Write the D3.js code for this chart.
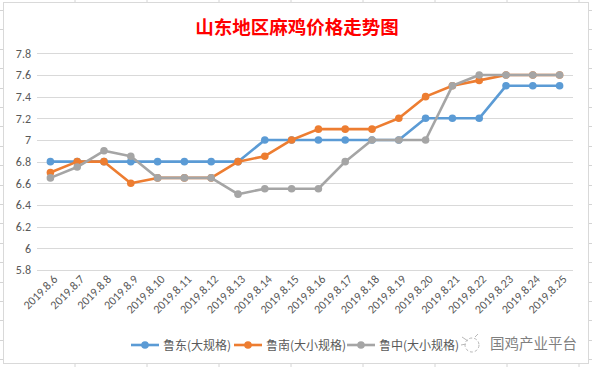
<!DOCTYPE html>
<html><head><meta charset="utf-8">
<script src="https://cdn.jsdelivr.net/npm/d3@7"></script>
<style>body{margin:0;background:#fff}svg{display:block}</style>
</head><body>
<script>
const categories = ["2019.8.6","2019.8.7","2019.8.8","2019.8.9","2019.8.10","2019.8.11","2019.8.12","2019.8.13","2019.8.14","2019.8.15","2019.8.16","2019.8.17","2019.8.18","2019.8.19","2019.8.20","2019.8.21","2019.8.22","2019.8.23","2019.8.24","2019.8.25"];
const seriesNames = ["鲁东(大规格)","鲁南(大小规格)","鲁中(大小规格)"];
const ludong  = [6.8,6.8,6.8,6.8,6.8,6.8,6.8,6.8,7.0,7.0,7.0,7.0,7.0,7.0,7.2,7.2,7.2,7.5,7.5,7.5];
const lunan   = [6.7,6.8,6.8,6.6,6.65,6.65,6.65,6.8,6.85,7.0,7.1,7.1,7.1,7.2,7.4,7.5,7.55,7.6,7.6,7.6];
const luzhong = [6.65,6.75,6.9,6.85,6.65,6.65,6.65,6.5,6.55,6.55,6.55,6.8,7.0,7.0,7.0,7.5,7.6,7.6,7.6,7.6];
const yTicks = [5.8,6,6.2,6.4,6.6,6.8,7,7.2,7.4,7.6,7.8];
const colors = ["#5B9BD5","#ED7D31","#A5A5A5"];
const title = "山东地区麻鸡价格走势图";
const watermark = "国鸡产业平台";

const W = 592, H = 367;
const svg = d3.select("body").append("svg").attr("width", W).attr("height", H);
const font = "Calibri, Carlito, 'Liberation Sans', 'Noto Sans CJK SC', sans-serif";

// spreadsheet cell lines behind the chart
const cellCols = d3.range(75, W, 72);
const cellRows = d3.range(10, H, 19.4);
svg.append("g").selectAll("line.c").data(cellCols).join("line")
  .attr("x1", d => d).attr("x2", d => d).attr("y1", 0).attr("y2", H)
  .attr("stroke", "#D4D4D4").attr("stroke-width", 1);
svg.append("g").selectAll("line.r").data(cellRows).join("line")
  .attr("x1", 0).attr("x2", W).attr("y1", d => Math.round(d) + 0.5).attr("y2", d => Math.round(d) + 0.5)
  .attr("stroke", "#D4D4D4").attr("stroke-width", 1);

// chart area
svg.append("rect").attr("x", 3.5).attr("y", 2.5).attr("width", 585).attr("height", 361)
  .attr("fill", "#fff").attr("stroke", "#D9D9D9").attr("stroke-width", 1);

svg.append("text").attr("x", 297).attr("y", 34).attr("text-anchor", "middle")
  .attr("fill", "#FF0000").attr("font-size", 18.5).attr("font-weight", "bold")
  .attr("font-family", "'Noto Sans CJK SC', sans-serif").text(title);

const x = d3.scaleBand().domain(categories).range([37, 573]);
const y = d3.scaleLinear().domain([5.8, 7.8]).range([270, 53.3]);

// gridlines
svg.append("g").selectAll("line").data(yTicks).join("line")
  .attr("x1", 37).attr("x2", 573)
  .attr("y1", d => Math.round(y(d)) + 0.5).attr("y2", d => Math.round(y(d)) + 0.5)
  .attr("stroke", "#D9D9D9").attr("stroke-width", 1);

// y axis
const yAxis = svg.append("g").attr("transform", "translate(31,0)")
  .call(d3.axisLeft(y).tickValues(yTicks).tickSize(0).tickPadding(0).tickFormat(d => String(+d.toFixed(1))));
yAxis.select(".domain").remove();
yAxis.selectAll("text").attr("fill", "#595959").attr("font-size", 12).attr("font-family", font);

// x axis
const xAxis = svg.append("g").attr("transform", "translate(0,277)")
  .call(d3.axisBottom(x).tickSize(0).tickPadding(0));
xAxis.select(".domain").remove();
xAxis.selectAll("text")
  .attr("fill", "#595959").attr("font-size", 12).attr("font-family", font)
  .attr("text-anchor", "end").attr("dy", "0.35em")
  .attr("transform", "translate(5,0) rotate(-45)");

// series
const data = [ludong, lunan, luzhong];
const cx = i => x(categories[i]) + x.bandwidth() / 2;
const line = d3.line().x((d, i) => cx(i)).y(d => y(d));
data.forEach((vals, s) => {
  const g = svg.append("g");
  g.append("path").datum(vals).attr("d", line).attr("fill", "none")
    .attr("stroke", colors[s]).attr("stroke-width", 2.6).attr("stroke-linejoin", "round");
  g.selectAll("circle").data(vals).join("circle")
    .attr("cx", (d, i) => cx(i)).attr("cy", d => y(d)).attr("r", 3.8).attr("fill", colors[s]);
});

// legend
const legendX = [131, 234, 347];
const lg = svg.append("g");
seriesNames.forEach((n, s) => {
  const g = lg.append("g").attr("transform", `translate(${legendX[s]},345)`);
  g.append("line").attr("x1", 0).attr("x2", 28).attr("y1", 0).attr("y2", 0)
    .attr("stroke", colors[s]).attr("stroke-width", 2.6);
  g.append("circle").attr("cx", 14).attr("cy", 0).attr("r", 3.8).attr("fill", colors[s]);
  g.append("text").attr("x", 32).attr("y", 4.5).attr("font-size", 12).attr("fill", "#595959")
    .attr("font-family", "'Noto Sans CJK SC', sans-serif").text(n);
});

// watermark
const wm = svg.append("g").attr("transform", "translate(462,343)");
wm.append("circle").attr("cx", 10).attr("cy", 2).attr("r", 7).attr("fill", "none")
  .attr("stroke", "#B0B0B0").attr("stroke-width", 0.9).attr("stroke-dasharray", "3,2");
wm.append("path").attr("d", "M0,-6 L6,-2 M-1,2 L4,1 M13,-6 L16,-9")
  .attr("fill", "none").attr("stroke", "#B0B0B0").attr("stroke-width", 0.9);
svg.append("text").attr("x", 490).attr("y", 349).attr("font-size", 14.5).attr("fill", "#7F7F7F")
  .attr("font-family", "'Noto Sans CJK SC', sans-serif").text(watermark);
</script>
</body></html>
